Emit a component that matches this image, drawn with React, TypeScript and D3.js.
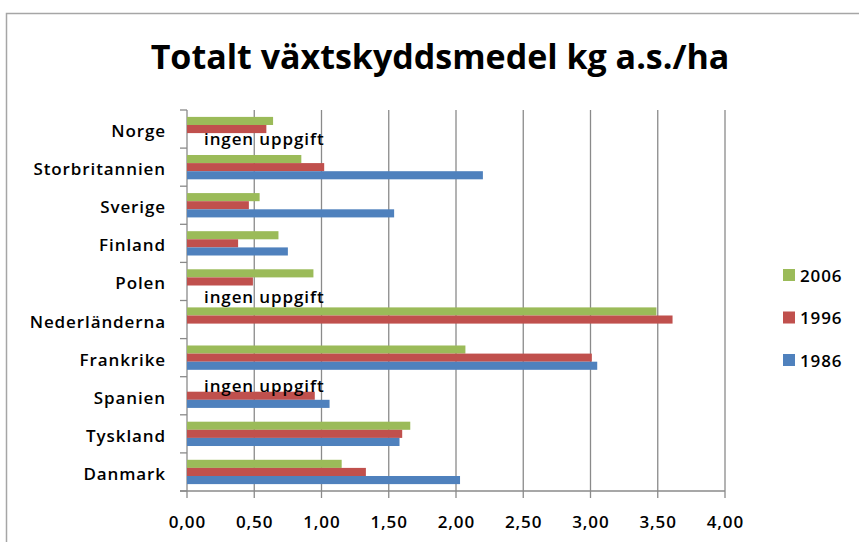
import React from "react";
import { scaleLinear, scaleBand, range } from "d3";

const countries = [
  "Norge",
  "Storbritannien",
  "Sverige",
  "Finland",
  "Polen",
  "Nederländerna",
  "Frankrike",
  "Spanien",
  "Tyskland",
  "Danmark",
];
const seriesNames = ["2006", "1996", "1986"];
const seriesColors = ["#9BBB59", "#C0504D", "#4F81BD"];
// null = no value in the source
const values2006 = [0.64, 0.85, 0.54, 0.68, 0.94, 3.49, 2.07, null, 1.66, 1.15];
const values1996 = [0.59, 1.02, 0.46, 0.38, 0.49, 3.61, 3.01, 0.95, 1.6, 1.33];
const values1986 = [null, 2.2, 1.54, 0.75, null, null, 3.05, 1.06, 1.58, 2.03];
const seriesValues = [values2006, values1996, values1986];
const xTicks = [0, 0.5, 1, 1.5, 2, 2.5, 3, 3.5, 4];
const missingLabel = "ingen uppgift";
const missingCountries = ["Norge", "Polen", "Spanien"];
const missingSeries = ["1986", "1986", "2006"];

const W = 859;
const H = 542;
const PLOT = { left: 187, right: 725, top: 110, bottom: 491 };
const FONT = "'Open Sans', 'Noto Sans', sans-serif";
const GRID = "#8a8a8a";
// the "ingen uppgift" boxes were hand-placed, nudge them like the original
const MISSING_DY = [8, 13, 4];

export default function App() {
  const x = scaleLinear().domain([0, 4]).range([PLOT.left, PLOT.right]);
  const y = scaleBand<string>().domain(countries).range([PLOT.top, PLOT.bottom]);
  const inner = scaleBand<string>()
    .domain(seriesNames)
    .range([0, y.bandwidth()])
    .paddingOuter(0.85);

  const fmt = (v: number) => v.toFixed(2).replace(".", ",");
  const boundaries = range(countries.length + 1).map(
    (i) => PLOT.top + i * y.step()
  );
  const labelStyle = { fontSize: 17, fontWeight: 600, letterSpacing: 0.9 };

  return (
    <div>
      <style>{`body{margin:0}`}</style>
      <svg width={W} height={H} style={{ display: "block", fontFamily: FONT }}>
        <rect x={0} y={0} width={W} height={H} fill="#fff" />
        {/* chart frame */}
        <rect
          x={6.5}
          y={13.5}
          width={W + 20}
          height={H + 20}
          fill="none"
          stroke="#a6a6a6"
          strokeWidth={1.5}
        />

        <text
          x={440}
          y={69}
          textAnchor="middle"
          fontSize={34}
          fontWeight={700}
          fill="#000"
        >
          Totalt växtskyddsmedel kg a.s./ha
        </text>

        {/* vertical gridlines */}
        {xTicks.map((t) => (
          <line
            key={t}
            x1={x(t)}
            x2={x(t)}
            y1={PLOT.top}
            y2={PLOT.bottom + 7}
            stroke={GRID}
            strokeWidth={1.3}
          />
        ))}
        {/* x axis line */}
        <line
          x1={PLOT.left - 7}
          x2={PLOT.right}
          y1={PLOT.bottom}
          y2={PLOT.bottom}
          stroke={GRID}
          strokeWidth={1.3}
        />
        {/* category ticks */}
        {boundaries.map((b, i) => (
          <line
            key={i}
            x1={PLOT.left - 7}
            x2={PLOT.left}
            y1={b}
            y2={b}
            stroke={GRID}
            strokeWidth={1.3}
          />
        ))}

        {/* bars */}
        {countries.map((c, ci) =>
          seriesNames.map((s, si) => {
            const v = seriesValues[si][ci];
            if (v === null) return null;
            return (
              <rect
                key={c + s}
                x={x(0)}
                y={(y(c) ?? 0) + (inner(s) ?? 0)}
                width={x(v) - x(0)}
                height={inner.bandwidth()}
                fill={seriesColors[si]}
              />
            );
          })
        )}

        {/* missing data labels */}
        {missingCountries.map((c, i) => (
          <text
            key={"m" + c}
            x={PLOT.left + 17}
            y={
              (y(c) ?? 0) +
              (inner(missingSeries[i]) ?? 0) +
              inner.bandwidth() / 2 +
              MISSING_DY[i]
            }
            fill="#000"
            {...labelStyle}
          >
            {missingLabel}
          </text>
        ))}

        {/* category labels */}
        {countries.map((c) => (
          <text
            key={c}
            x={166}
            y={(y(c) ?? 0) + y.bandwidth() / 2 + 8}
            textAnchor="end"
            fill="#000"
            {...labelStyle}
          >
            {c}
          </text>
        ))}

        {/* x tick labels */}
        {xTicks.map((t) => (
          <text
            key={"l" + t}
            x={x(t) + 0.4}
            y={528}
            textAnchor="middle"
            fill="#000"
            {...labelStyle}
          >
            {fmt(t)}
          </text>
        ))}

        {/* legend */}
        {seriesNames.map((s, i) => {
          const ly = 275 + i * 42.5;
          return (
            <g key={"lg" + s}>
              <rect x={783} y={ly - 6} width={12} height={12} fill={seriesColors[i]} />
              <text x={800} y={ly + 6.5} fill="#000" {...labelStyle}>
                {s}
              </text>
            </g>
          );
        })}
      </svg>
    </div>
  );
}
